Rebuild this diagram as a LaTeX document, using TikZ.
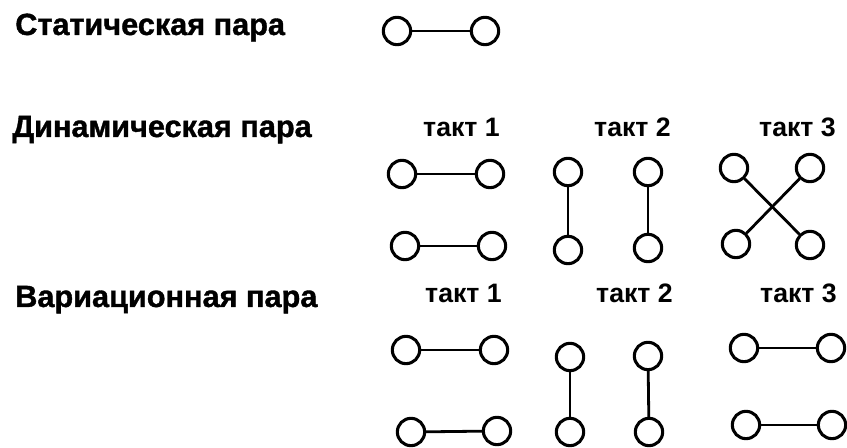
\documentclass[tikz,border=0pt]{standalone}
\usepackage{fontspec}
\setmainfont{Liberation Sans}
\newfontfamily\heavyfont{Liberation Sans Bold}[FakeBold=1.2]
\begin{document}
\begin{tikzpicture}[x=0.75pt,y=-0.75pt,
  ball/.style={circle,draw,line width=2.3pt,minimum size=20.5pt,inner sep=0pt},
  link/.style={line width=2.1pt},
  rowlabel/.style={anchor=base west,inner sep=0pt,font=\heavyfont\fontsize{23pt}{28pt}\selectfont},
  tact/.style={anchor=base east,inner sep=0pt,font=\bfseries\fontsize{20pt}{24pt}\selectfont}]
\useasboundingbox (0,0) rectangle (847,448);

% row titles
\node[rowlabel] (tstat) at (15,35) {Статическая пара};
\node[rowlabel] (tdyn)  at (12,137) {Динамическая пара};
\node[rowlabel] (tvar)  at (15,307) {Вариационная пара};

% static pair
\node[ball] (s1) at (397,31) {};
\node[ball] (s2) at (485,31) {};
\draw[link] (s1) -- (s2);

% dynamic pair
\node[tact] (dl1) at (500,137) {такт 1};
\node[tact] (dl2) at (671,137) {такт 2};
\node[tact] (dl3) at (836,137) {такт 3};

\node[ball] (a1) at (402,174) {};
\node[ball] (a2) at (490,174) {};
\node[ball] (a3) at (405,246) {};
\node[ball] (a4) at (492,246) {};
\draw[link] (a1) -- (a2);
\draw[link] (a3) -- (a4);

\node[ball] (b1) at (568,172) {};
\node[ball] (b2) at (568,250) {};
\node[ball] (b3) at (648,172) {};
\node[ball] (b4) at (648,248) {};
\draw[link] (b1) -- (b2);
\draw[link] (b3) -- (b4);

\node[ball] (c1) at (734,168) {};
\node[ball] (c2) at (810,168) {};
\node[ball] (c3) at (736,244) {};
\node[ball] (c4) at (810,245) {};
\draw[link] (c1) -- (c4);
\draw[link] (c2) -- (c3);

% variation pair
\node[tact] (vl1) at (502,303) {такт 1};
\node[tact] (vl2) at (673,303) {такт 2};
\node[tact] (vl3) at (837,303) {такт 3};

\node[ball] (d1) at (406,350) {};
\node[ball] (d2) at (494,350) {};
\node[ball] (d3) at (411,432) {};
\node[ball] (d4) at (497,431) {};
\draw[link] (d1) -- (d2);
\draw[link] (d3) -- (d4);

\node[ball] (e1) at (570,357) {};
\node[ball] (e2) at (570,432) {};
\node[ball] (e3) at (648,356) {};
\node[ball] (e4) at (649,432) {};
\draw[link] (e1) -- (e2);
\draw[link] (e3) -- (e4);

\node[ball] (f1) at (744,348) {};
\node[ball] (f2) at (831,348) {};
\node[ball] (f3) at (746,425) {};
\node[ball] (f4) at (832,425) {};
\draw[link] (f1) -- (f2);
\draw[link] (f3) -- (f4);
\end{tikzpicture}
\end{document}
